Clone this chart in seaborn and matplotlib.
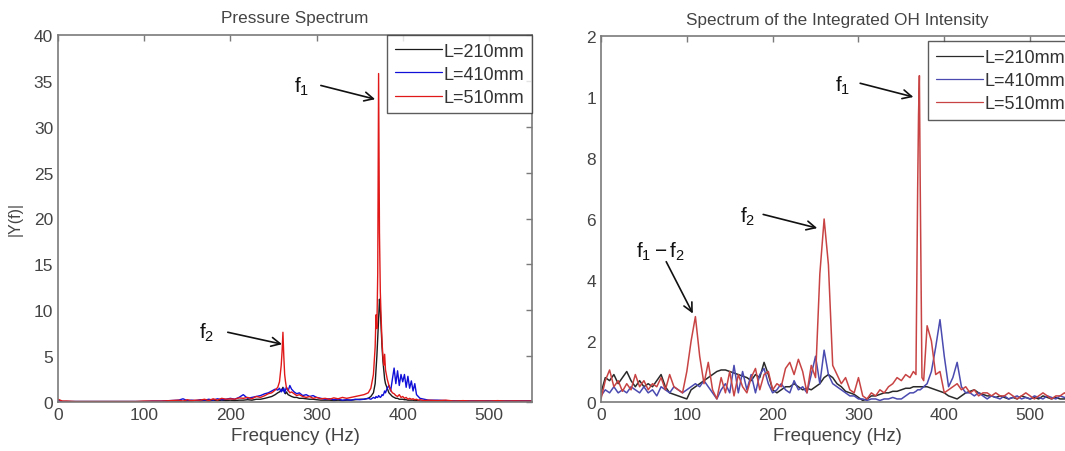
import matplotlib
matplotlib.use("Agg")
import matplotlib.pyplot as plt
import seaborn as sns
import pandas as pd

# ---------------- data ----------------
series_names = ["L=210mm", "L=410mm", "L=510mm"]

# Pressure spectrum (left)
freq_p = [0, 5, 10, 20, 30, 40, 50, 60, 70, 80,
          90, 100, 110, 120, 130, 140, 145, 150, 155, 160,
          165, 170, 175, 180, 185, 190, 195, 200, 205, 210,
          215, 220, 225, 230, 235, 240, 244, 248, 252, 255,
          257, 259, 260, 261, 262, 263, 264, 265, 267, 269,
          271, 274, 277, 280, 284, 288, 292, 296, 300, 305,
          310, 315, 320, 325, 330, 335, 340, 345, 350, 355,
          360, 363, 366, 368, 369, 370, 371, 372, 373, 374,
          375, 376, 377, 378, 379, 380, 382, 384, 386, 388,
          390, 392, 394, 396, 398, 400, 402, 404, 406, 408,
          410, 412, 414, 416, 418, 420, 425, 430, 440, 450,
          460, 470, 480, 490, 500, 510, 520, 530, 540, 550]

p_210 = [0.2, 0.05, 0.05, 0.05, 0.05, 0.05, 0.05, 0.05, 0.05, 0.05,
         0.05, 0.05, 0.05, 0.05, 0.1, 0.1, 0.05, 0.1, 0.1, 0.15,
         0.1, 0.15, 0.1, 0.2, 0.15, 0.2, 0.15, 0.2, 0.15, 0.2,
         0.2, 0.25, 0.2, 0.3, 0.3, 0.4, 0.5, 0.6, 0.8, 1.0,
         1.1, 1.3, 1.4, 1.6, 1.3, 1.0, 0.9, 1.1, 0.8, 0.7,
         0.6, 0.5, 0.5, 0.4, 0.4, 0.35, 0.3, 0.3, 0.25, 0.2,
         0.2, 0.2, 0.15, 0.2, 0.15, 0.2, 0.2, 0.25, 0.3, 0.3,
         0.4, 0.6, 1.0, 2.0, 3.5, 5.0, 7.0, 9.0, 11.2, 10.0,
         8.0, 6.0, 4.5, 3.5, 2.5, 2.0, 1.5, 1.0, 0.8, 0.6,
         0.5, 0.4, 0.4, 0.3, 0.3, 0.3, 0.25, 0.25, 0.2, 0.2,
         0.2, 0.2, 0.15, 0.15, 0.15, 0.1, 0.1, 0.1, 0.1, 0.1,
         0.1, 0.1, 0.1, 0.1, 0.1, 0.1, 0.1, 0.1, 0.1, 0.1]

p_410 = [0.2, 0.05, 0.05, 0.05, 0.05, 0.05, 0.05, 0.05, 0.05, 0.05,
         0.05, 0.05, 0.1, 0.1, 0.15, 0.2, 0.35, 0.15, 0.2, 0.15,
         0.25, 0.2, 0.3, 0.2, 0.35, 0.25, 0.3, 0.4, 0.3, 0.5,
         0.8, 0.4, 0.5, 0.6, 0.7, 0.9, 1.0, 1.2, 1.4, 1.3,
         1.5, 1.1, 1.4, 1.2, 1.5, 1.0, 1.3, 1.6, 1.2, 1.8,
         1.4, 1.1, 0.9, 1.0, 0.7, 0.8, 0.6, 0.7, 0.5, 0.4,
         0.3, 0.35, 0.25, 0.3, 0.2, 0.25, 0.2, 0.3, 0.25, 0.3,
         0.4, 0.3, 0.5, 0.4, 0.6, 0.5, 0.5, 0.7, 0.6, 0.5,
         0.6, 0.8, 0.7, 0.9, 1.2, 1.0, 1.5, 1.8, 1.2, 2.5,
         3.7, 2.0, 3.4, 1.8, 3.0, 2.2, 3.0, 1.6, 2.8, 1.5,
         2.3, 1.2, 2.0, 0.8, 0.6, 0.4, 0.3, 0.2, 0.2, 0.15,
         0.1, 0.1, 0.1, 0.1, 0.1, 0.1, 0.1, 0.1, 0.1, 0.1]

p_510 = [0.3, 0.1, 0.1, 0.05, 0.05, 0.05, 0.05, 0.05, 0.05, 0.05,
         0.05, 0.1, 0.1, 0.1, 0.15, 0.2, 0.1, 0.25, 0.15, 0.2,
         0.2, 0.3, 0.15, 0.35, 0.2, 0.4, 0.3, 0.35, 0.3, 0.45,
         0.4, 0.5, 0.35, 0.6, 0.5, 0.7, 0.9, 1.0, 1.3, 1.6,
         2.2, 4.0, 5.5, 7.6, 5.0, 3.0, 2.2, 1.6, 1.3, 1.0,
         1.1, 0.9, 0.7, 0.8, 0.6, 0.5, 0.6, 0.4, 0.5, 0.35,
         0.4, 0.3, 0.45, 0.35, 0.5, 0.4, 0.5, 0.6, 0.7, 0.8,
         1.0, 1.5, 3.0, 6.0, 9.5, 8.0, 14.0, 35.8, 18.5, 12.0,
         9.0, 6.5, 5.0, 4.0, 5.2, 3.5, 2.5, 1.8, 1.3, 1.0,
         0.9, 0.7, 0.6, 0.8, 0.5, 0.6, 0.4, 0.5, 0.3, 0.4,
         0.3, 0.35, 0.25, 0.3, 0.2, 0.25, 0.15, 0.2, 0.15, 0.2,
         0.1, 0.15, 0.1, 0.12, 0.1, 0.15, 0.1, 0.12, 0.1, 0.1]

# Integrated OH intensity spectrum (right)
freq_oh = [0, 5, 10, 15, 20, 25, 30, 35, 40, 45,
           50, 55, 60, 65, 70, 75, 80, 85, 90, 95,
           100, 105, 110, 115, 120, 125, 130, 135, 140, 145,
           150, 155, 160, 165, 170, 175, 180, 185, 190, 195,
           200, 205, 210, 215, 220, 225, 230, 235, 240, 245,
           250, 255, 260, 265, 270, 275, 280, 285, 290, 295,
           300, 305, 310, 315, 320, 325, 330, 335, 340, 345,
           350, 355, 360, 364, 367, 369, 370, 371, 372, 374,
           376, 380, 385, 390, 395, 400, 405, 410, 415, 420,
           425, 430, 435, 440, 445, 450, 455, 460, 465, 470,
           475, 480, 485, 490, 495, 500, 505, 510, 515, 520,
           525, 530, 535, 540, 545, 550]

oh_210 = [0.3, 0.8, 0.7, 0.9, 0.6, 0.8, 1.0, 0.7, 0.5, 0.7,
          0.5, 0.6, 0.5, 0.7, 0.9, 0.5, 0.3, 0.25, 0.2, 0.15,
          0.1, 0.4, 0.5, 0.6, 0.7, 0.8, 0.9, 1.0, 1.05, 1.05,
          1.0, 0.95, 0.9, 0.85, 0.8, 0.7, 0.9, 0.8, 1.3, 0.9,
          0.4, 0.3, 0.4, 0.5, 0.5, 0.6, 0.5, 0.4, 0.45, 0.4,
          0.5, 0.6, 0.8, 0.9, 0.8, 0.6, 0.5, 0.35, 0.3, 0.25,
          0.15, 0.05, 0.1, 0.2, 0.2, 0.25, 0.3, 0.3, 0.35, 0.35,
          0.4, 0.45, 0.45, 0.5, 0.5, 0.5, 0.5, 0.5, 0.5, 0.5,
          0.5, 0.5, 0.45, 0.4, 0.35, 0.3, 0.2, 0.15, 0.1, 0.2,
          0.3, 0.35, 0.4, 0.3, 0.25, 0.2, 0.2, 0.15, 0.2, 0.15,
          0.1, 0.15, 0.1, 0.2, 0.15, 0.1, 0.15, 0.1, 0.2, 0.15,
          0.1, 0.15, 0.1, 0.1, 0.15, 0.1]

oh_410 = [0.2, 0.4, 0.3, 0.5, 0.3, 0.4, 0.3, 0.5, 0.4, 0.3,
          0.5, 0.3, 0.4, 0.2, 0.5, 0.4, 0.3, 0.5, 0.4, 0.3,
          0.4, 0.5, 0.6, 0.5, 0.7, 0.5, 0.3, 0.1, 0.4, 0.6,
          0.3, 1.2, 0.3, 1.0, 0.4, 0.9, 0.3, 0.9, 1.1, 0.6,
          0.3, 0.4, 0.6, 0.4, 0.3, 0.7, 0.4, 0.5, 0.3, 0.9,
          1.5, 0.6, 1.7, 0.9, 0.6, 0.5, 0.4, 0.3, 0.2, 0.2,
          0.1, 0.1, 0.05, 0.1, 0.1, 0.05, 0.1, 0.1, 0.15, 0.1,
          0.1, 0.2, 0.3, 0.3, 0.35, 0.4, 0.4, 0.4, 0.4, 0.45,
          0.5, 0.6, 1.0, 1.8, 2.7, 1.5, 0.5, 0.8, 1.3, 0.5,
          0.3, 0.3, 0.2, 0.3, 0.2, 0.1, 0.2, 0.15, 0.1, 0.2,
          0.1, 0.15, 0.2, 0.1, 0.15, 0.1, 0.2, 0.15, 0.1, 0.2,
          0.15, 0.1, 0.2, 0.15, 0.1, 0.15]

oh_510 = [0.1, 0.7, 1.05, 0.5, 0.7, 0.35, 0.6, 0.4, 0.9, 0.5,
          0.7, 0.4, 0.6, 0.5, 0.8, 0.4, 0.9, 0.5, 0.4, 0.3,
          1.0, 2.0, 2.8, 1.5, 0.6, 1.3, 0.4, 0.1, 0.8, 0.3,
          1.0, 0.2, 0.9, 0.5, 0.3, 0.8, 1.1, 0.4, 0.9, 1.0,
          0.4, 0.6, 0.5, 1.1, 1.3, 0.9, 1.4, 1.0, 0.3, 1.2,
          0.8, 4.2, 6.0, 4.5, 1.2, 0.9, 0.6, 0.8, 0.4, 0.3,
          0.8, 0.2, 0.1, 0.3, 0.2, 0.4, 0.3, 0.5, 0.6, 0.8,
          0.7, 0.9, 0.8, 1.0, 0.9, 7.0, 9.4, 10.7, 7.0, 0.8,
          0.7, 2.5, 2.0, 0.9, 1.0, 0.3, 0.4, 0.5, 0.6, 0.4,
          0.5, 0.3, 0.4, 0.2, 0.3, 0.3, 0.2, 0.3, 0.2, 0.2,
          0.3, 0.2, 0.1, 0.2, 0.3, 0.2, 0.1, 0.2, 0.3, 0.2,
          0.1, 0.2, 0.2, 0.3, 0.2, 0.1]

x_ticks = [0, 100, 200, 300, 400, 500]
p_yticks = [0, 5, 10, 15, 20, 25, 30, 35, 40]
oh_yticks = [0, 2, 4, 6, 8, 10, 12]
oh_ytick_labels = ["0", "2", "4", "6", "8", "1", "2"]

# ---------------- build tables ----------------
def long_table(freq, series):
    rows = []
    for name, vals in zip(series_names, series):
        assert len(vals) == len(freq), (name, len(vals), len(freq))
        for f, v in zip(freq, vals):
            rows.append({"Frequency": f, "Amp": v, "Series": name})
    return pd.DataFrame(rows)

df_p = long_table(freq_p, [p_210, p_410, p_510])
df_oh = long_table(freq_oh, [oh_210, oh_410, oh_510])

# ---------------- plotting ----------------
sns.set_style("white")
plt.rcParams["font.family"] = ["Liberation Sans", "DejaVu Sans"]
plt.rcParams["mathtext.fontset"] = "custom"
plt.rcParams["mathtext.rm"] = "Liberation Sans"
plt.rcParams["mathtext.it"] = "Liberation Sans"

fig = plt.figure(figsize=(10.65, 4.52), dpi=100)
ax1 = fig.add_axes([58 / 1065, 49 / 452, 474 / 1065, 367 / 452])
ax2 = fig.add_axes([601 / 1065, 49 / 452, 472 / 1065, 366 / 452])

pal_p = {"L=210mm": "#1a1a1a", "L=410mm": "#1010d8", "L=510mm": "#e01818"}
pal_oh = {"L=210mm": "#2a2a2a", "L=410mm": "#4a4ab0", "L=510mm": "#c84444"}

tick_col = "#444444"
spine_col = "#7a7a7a"

sns.lineplot(data=df_p, x="Frequency", y="Amp", hue="Series", palette=pal_p,
             estimator=None, sort=False, lw=1.0, ax=ax1)
sns.lineplot(data=df_oh, x="Frequency", y="Amp", hue="Series", palette=pal_oh,
             estimator=None, sort=False, lw=1.1, ax=ax2)

for ax in (ax1, ax2):
    ax.set_xlim(0, 550)
    ax.set_xticks(x_ticks)
    ax.tick_params(direction="in", top=True, right=True, length=4,
                   color=spine_col, labelcolor=tick_col, labelsize=12.5, width=1)
    for s in ax.spines.values():
        s.set_color(spine_col)
        s.set_linewidth(1.2)
    ax.set_xlabel("Frequency (Hz)", fontsize=13.5, color=tick_col, labelpad=4)

ax1.set_ylim(0, 40)
ax1.set_yticks(p_yticks)
ax1.set_ylabel("|Y(f)|", fontsize=11.5, color=tick_col, labelpad=8)
ax1.set_title("Pressure Spectrum", fontsize=12.3, color=tick_col, pad=9)

ax2.set_ylim(0, 12)
ax2.set_yticks(oh_yticks)
ax2.set_yticklabels(oh_ytick_labels)
ax2.set_ylabel("")
ax2.set_title("Spectrum of the Integrated OH Intensity", fontsize=12.3,
              color=tick_col, pad=9)

leg_kw = dict(loc="upper right", frameon=True, fancybox=False, fontsize=13,
              handlelength=2.6, handletextpad=0.1, borderaxespad=0.0,
              labelspacing=0.34, borderpad=0.42)
h1, l1 = ax1.get_legend_handles_labels()
leg1 = ax1.legend(h1, l1, **leg_kw)
h2, l2 = ax2.get_legend_handles_labels()
leg2 = ax2.legend(h2, l2, bbox_to_anchor=(1.0, 0.985), **leg_kw)
for leg in (leg1, leg2):
    leg.get_frame().set_edgecolor("#333333")
    leg.get_frame().set_linewidth(1.0)
    for t in leg.get_texts():
        t.set_color("#333333")
    for ln in leg.get_lines():
        ln.set_linewidth(0.9)

ann_kw = dict(arrowprops=dict(arrowstyle="->", color="#111111", lw=1.2,
                              mutation_scale=16, shrinkA=0, shrinkB=0))
txt_kw = dict(fontsize=15, ha="center", va="center", color="#111111")

# left annotations
ax1.annotate("", xy=(368, 33.0), xytext=(305, 34.5), **ann_kw)
ax1.text(283, 34.5, r"$\mathregular{f_1}$", **txt_kw)
ax1.annotate("", xy=(260, 6.3), xytext=(197, 7.6), **ann_kw)
ax1.text(172, 7.6, r"$\mathregular{f_2}$", **txt_kw)

# right annotations
ax2.annotate("", xy=(364, 10.0), xytext=(302, 10.45), **ann_kw)
ax2.text(282, 10.4, r"$\mathregular{f_1}$", **txt_kw)
ax2.annotate("", xy=(252, 5.7), xytext=(189, 6.15), **ann_kw)
ax2.text(171, 6.1, r"$\mathregular{f_2}$", **txt_kw)
ax2.annotate("", xy=(107, 2.9), xytext=(76, 4.6), **ann_kw)
ax2.text(70, 4.95, r"$\mathregular{f_1 - f_2}$", **txt_kw)

fig.savefig("out.png", dpi=100)
